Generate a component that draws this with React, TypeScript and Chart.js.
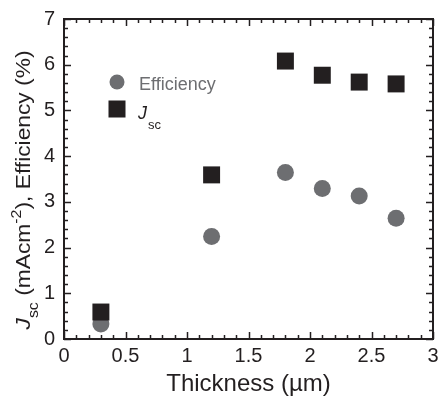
import { useEffect, useRef } from "react";
import { Chart, registerables } from "chart.js";

Chart.register(...registerables);

// ---- data ----
const thickness = [0.3, 1.2, 1.8, 2.1, 2.4, 2.7];
const efficiency = [0.33, 2.24, 3.64, 3.29, 3.13, 2.64];
const jsc = [0.59, 3.59, 6.08, 5.77, 5.62, 5.58];
const xTickValues = [0, 0.5, 1, 1.5, 2, 2.5, 3];
const yTickValues = [0, 1, 2, 3, 4, 5, 6, 7];
const xMinorStep = 0.1;
const yMinorStep = 0.2;

const BLACK = "#231f20";
const GRAY = "#6d6e71";
const FONT = "'Liberation Sans', Arial, Helvetica, sans-serif";

const decor = {
  id: "decor",
  beforeDatasetsDraw(chart: any) {
    const { ctx, chartArea: a, scales } = chart;
    const xs = scales.x;
    const ys = scales.y;
    ctx.save();
    ctx.strokeStyle = BLACK;
    ctx.lineWidth = 1.5;
    const majorLen = 7;
    const minorLen = 4;
    ctx.beginPath();
    const xmin = xs.min, xmax = xs.max;
    const nx = Math.round((xmax - xmin) / xMinorStep);
    for (let i = 0; i <= nx; i++) {
      const v = xmin + i * xMinorStep;
      const major = xTickValues.some((t) => Math.abs(t - v) < 1e-6);
      const len = major ? majorLen : minorLen;
      const px = Math.round(xs.getPixelForValue(v)) + 0.5;
      ctx.moveTo(px, a.bottom);
      ctx.lineTo(px, a.bottom - len);
      ctx.moveTo(px, a.top);
      ctx.lineTo(px, a.top + len);
    }
    const ymin = ys.min, ymax = ys.max;
    const ny = Math.round((ymax - ymin) / yMinorStep);
    for (let i = 0; i <= ny; i++) {
      const v = ymin + i * yMinorStep;
      const major = yTickValues.some((t) => Math.abs(t - v) < 1e-6);
      const len = major ? majorLen : minorLen;
      const py = Math.round(ys.getPixelForValue(v)) + 0.5;
      ctx.moveTo(a.left, py);
      ctx.lineTo(a.left + len, py);
      ctx.moveTo(a.right, py);
      ctx.lineTo(a.right - len, py);
    }
    ctx.stroke();
    ctx.lineWidth = 2;
    ctx.strokeRect(a.left, a.top, a.right - a.left, a.bottom - a.top);
    ctx.restore();
  },
  afterDraw(chart: any) {
    const { ctx, chartArea: a } = chart;
    ctx.save();
    // legend
    const lx = a.left + 53;
    const ly1 = a.top + 63;
    const ly2 = a.top + 90;
    ctx.fillStyle = GRAY;
    ctx.beginPath();
    ctx.arc(lx, ly1, 7.5, 0, Math.PI * 2);
    ctx.fill();
    ctx.fillStyle = BLACK;
    ctx.fillRect(lx - 8.5, ly2 - 8.5, 17, 17);
    ctx.textBaseline = "alphabetic";
    ctx.textAlign = "left";
    ctx.fillStyle = GRAY;
    ctx.font = `18px ${FONT}`;
    ctx.fillText("Efficiency", lx + 22, ly1 + 8);
    ctx.fillStyle = BLACK;
    ctx.font = `italic 18px ${FONT}`;
    ctx.fillText("J", lx + 21, ly2 + 9.5);
    const jw = ctx.measureText("J").width;
    ctx.font = `13px ${FONT}`;
    ctx.fillText("sc", lx + 21 + jw + 1, ly2 + 19.5);

    // y-axis title
    const segs = [
      { t: "J", f: `italic 20px ${FONT}`, dy: 0 },
      { t: "sc", f: `14px ${FONT}`, dy: 8 },
      { t: " (mAcm", f: `20px ${FONT}`, dy: 0 },
      { t: "-2", f: `14px ${FONT}`, dy: -9 },
      { t: "), Efficiency (%)", f: `20px ${FONT}`, dy: 0 },
    ];
    let total = 0;
    const widths: number[] = [];
    for (const s of segs) {
      ctx.font = s.f;
      const w = ctx.measureText(s.t).width;
      widths.push(w);
      total += w;
    }
    const targetLen = 279;
    const sc = targetLen / total;
    ctx.translate(30, 190);
    ctx.rotate(-Math.PI / 2);
    ctx.scale(sc, 1);
    ctx.fillStyle = BLACK;
    let x = -total / 2;
    segs.forEach((s, i) => {
      ctx.font = s.f;
      ctx.fillText(s.t, x, s.dy);
      x += widths[i];
    });
    ctx.restore();
  },
};

export default function App() {
  const ref = useRef<HTMLCanvasElement | null>(null);
  useEffect(() => {
    if (!ref.current) return;
    const chart = new Chart(ref.current, {
      type: "scatter",
      data: {
        datasets: [
          {
            label: "Efficiency",
            data: thickness.map((x, i) => ({ x, y: efficiency[i] })),
            pointStyle: "circle",
            pointRadius: 8.5,
            pointHoverRadius: 8.5,
            backgroundColor: GRAY,
            borderWidth: 0,
            order: 1,
          },
          {
            label: "Jsc",
            data: thickness.map((x, i) => ({ x, y: jsc[i] })),
            pointStyle: "rect",
            pointRadius: 12,
            pointHoverRadius: 12,
            backgroundColor: BLACK,
            borderWidth: 0,
            order: 0,
          },
        ],
      },
      options: {
        responsive: false,
        animation: false,
        devicePixelRatio: 1,
        layout: { autoPadding: false, padding: { top: 19, right: 5, left: 0, bottom: 0 } },
        plugins: {
          legend: { display: false },
          tooltip: { enabled: false },
          title: { display: false },
        },
        scales: {
          x: {
            type: "linear",
            min: 0,
            max: 3,
            grid: { display: false, drawTicks: false },
            border: { display: false },
            afterBuildTicks: (s: any) => {
              s.ticks = xTickValues.map((v) => ({ value: v }));
            },
            afterFit: (s: any) => {
              s.height = 60;
              s.paddingLeft = 0;
              s.paddingRight = 0;
            },
            ticks: {
              padding: 5,
              color: BLACK,
              font: { family: FONT, size: 20 },
              maxRotation: 0,
              autoSkip: false,
              callback: (v: any) => String(v),
            },
            title: {
              display: true,
              text: "Thickness (\u00b5m)",
              color: BLACK,
              font: { family: FONT, size: 24 },
              padding: { top: 0, bottom: 0 },
            },
          },
          y: {
            type: "linear",
            min: 0,
            max: 7,
            grid: { display: false, drawTicks: false },
            border: { display: false },
            afterBuildTicks: (s: any) => {
              s.ticks = yTickValues.map((v) => ({ value: v }));
            },
            afterFit: (s: any) => {
              s.width = 64;
              s.paddingTop = 0;
              s.paddingBottom = 0;
            },
            ticks: {
              padding: 9,
              color: BLACK,
              font: { family: FONT, size: 20 },
              autoSkip: false,
              callback: (v: any) => String(v),
            },
          },
        },
      },
      plugins: [decor],
    });
    return () => chart.destroy();
  }, []);
  return (
    <div style={{ position: "fixed", left: 0, top: 0, width: 438, height: 399, background: "#fff" }}>
      <canvas ref={ref} width={438} height={399} />
    </div>
  );
}
